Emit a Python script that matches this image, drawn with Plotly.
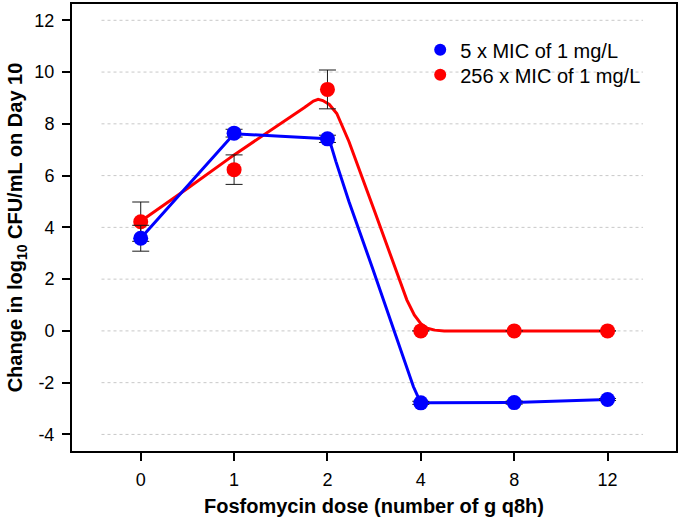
import plotly.graph_objects as go

# ---- data ----
dose_labels = ["0", "1", "2", "4", "8", "12"]
dose_pos = list(range(len(dose_labels)))

blue_name = "5 x MIC of 1 mg/L"
blue_y = [3.58, 7.64, 7.42, -2.78, -2.77, -2.65]
blue_err = [0.5, 0.15, 0.14, 0.06, 0.06, 0.04]

red_name = "256 x MIC of 1 mg/L"
red_y = [4.22, 6.23, 9.33, 0.0, 0.0, 0.0]
red_err = [0.76, 0.57, 0.75, 0.0, 0.0, 0.0]

# fitted curves (x in dose-index units)
blue_fit_x = [0, 0.5, 1.0, 1.5, 1.95, 2.0, 2.04, 2.09, 2.23, 2.48, 2.7, 2.85, 2.92, 2.97, 3.02, 3.1, 4, 5]
blue_fit_y = [3.58, 5.6, 7.62, 7.52, 7.43, 7.38, 7.15, 6.55, 5.0, 2.45, 0.15, -1.45, -2.15, -2.55, -2.72, -2.78, -2.77, -2.65]

red_fit_x = [0, 0.5, 1.0, 1.5, 1.75, 1.85, 1.9, 1.95, 2.02, 2.1, 2.23, 2.5, 2.7, 2.85, 2.93, 3.0, 3.07, 3.15, 3.25, 4, 5]
red_fit_y = [4.24, 5.5, 6.8, 8.0, 8.62, 8.88, 8.95, 8.9, 8.75, 8.4, 7.32, 4.67, 2.7, 1.2, 0.62, 0.28, 0.1, 0.03, 0.0, 0.0, 0.0]

y_ticks = [-4, -2, 0, 2, 4, 6, 8, 10, 12]
y_tick_text = ["-4", "-2", "0", "2", "4", "6", "8", "10", "12"]

x_title = "Fosfomycin dose (number of g q8h)"
y_title = "Change in log<sub>10</sub> CFU/mL on Day 10"

BLUE = "#0000ff"
RED = "#ff0000"
FONT = "Liberation Sans, Arial, sans-serif"

fig = go.Figure()

# fitted lines
fig.add_trace(go.Scatter(x=red_fit_x, y=red_fit_y, mode="lines",
                         line=dict(color=RED, width=3), showlegend=False, hoverinfo="skip"))
fig.add_trace(go.Scatter(x=blue_fit_x, y=blue_fit_y, mode="lines",
                         line=dict(color=BLUE, width=3), showlegend=False, hoverinfo="skip"))

# observed points with error bars
fig.add_trace(go.Scatter(x=dose_pos, y=red_y, mode="markers", name=red_name,
                         marker=dict(color=RED, size=15), legend="legend2",
                         error_y=dict(type="data", array=red_err, color="#1a1a1a",
                                      thickness=1, width=8.5)))
fig.add_trace(go.Scatter(x=dose_pos, y=blue_y, mode="markers", name=blue_name,
                         marker=dict(color=BLUE, size=15), legend="legend",
                         error_y=dict(type="data", array=blue_err, color="#1a1a1a",
                                      thickness=1, width=8.5)))

# inset dotted gridlines
for yv in y_ticks:
    fig.add_shape(type="line", xref="x", yref="y", x0=-0.42, x1=5.38, y0=yv, y1=yv,
                  line=dict(color="#c8c8c8", width=1, dash="dot"), layer="below")

leg_common = dict(xanchor="left", yanchor="middle", itemsizing="constant",
                  font=dict(size=20, family=FONT), bgcolor="rgba(0,0,0,0)")

fig.update_layout(
    width=680, height=524,
    margin=dict(l=72, r=2, t=2, b=73),
    paper_bgcolor="white", plot_bgcolor="white",
    font=dict(family=FONT, size=18, color="black"),
    legend=dict(x=0.5765, y=0.8975, **leg_common),
    legend2=dict(x=0.5765, y=0.8415, **leg_common),
)

fig.update_xaxes(
    range=[-0.736, 5.733], tickmode="array", tickvals=dose_pos, ticktext=dose_labels,
    showgrid=False, zeroline=False,
    showline=True, linecolor="black", linewidth=2, mirror=True,
    ticks="outside", ticklen=8, tickwidth=2, tickcolor="black",
    ticklabelstandoff=3,
    tickfont=dict(size=18, family=FONT),
    title=dict(text=x_title, font=dict(size=20, family=FONT, weight="bold"), standoff=10),
)
fig.update_yaxes(
    range=[-4.64, 12.63], tickmode="array", tickvals=y_ticks, ticktext=y_tick_text,
    showgrid=False, zeroline=False,
    showline=True, linecolor="black", linewidth=2, mirror=True,
    ticks="outside", ticklen=8, tickwidth=2, tickcolor="black",
    ticklabelstandoff=4,
    tickfont=dict(size=18, family=FONT),
    title=dict(text=y_title, font=dict(size=20, family=FONT, weight="bold"), standoff=6),
)

fig.write_html("out.html", config={"displayModeBar": False},
               post_script="document.body.style.margin='0';document.body.style.overflow='hidden';")
